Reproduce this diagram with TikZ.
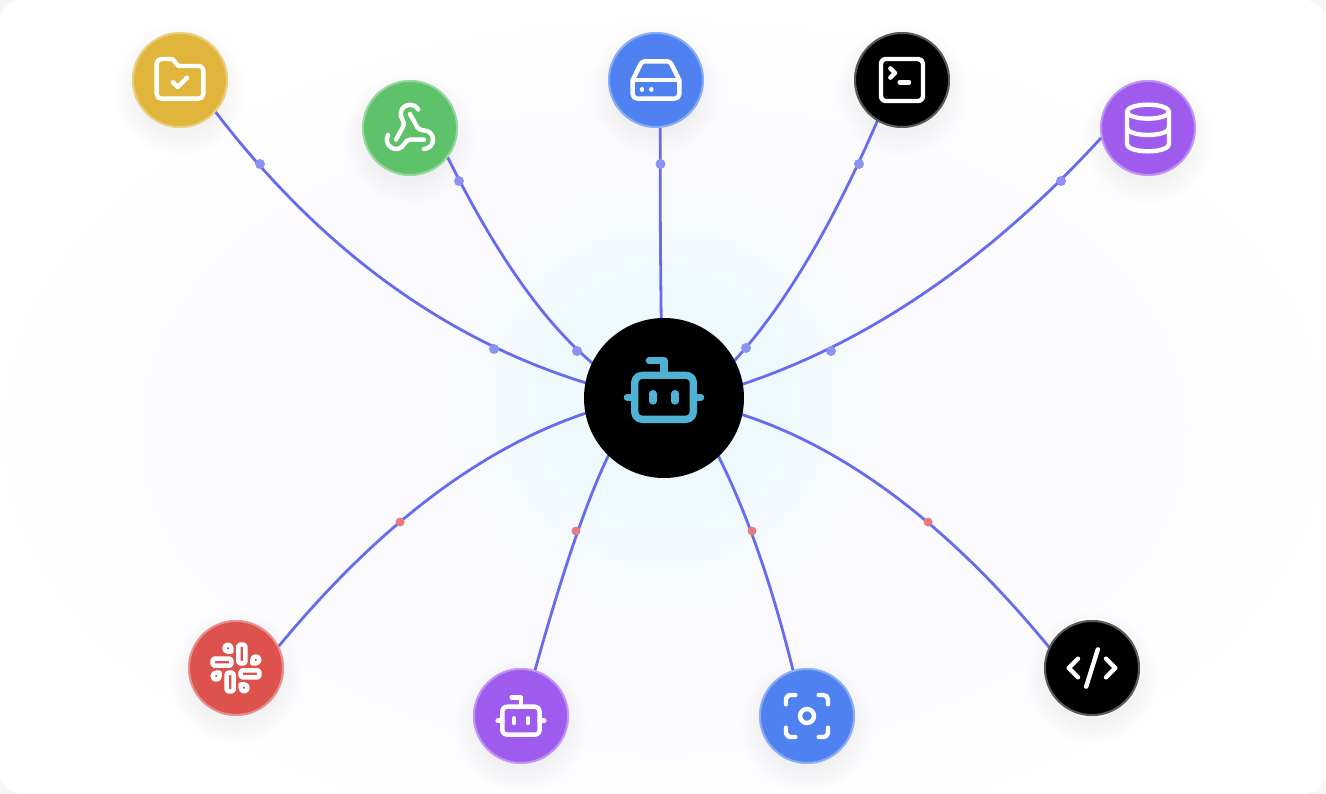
\documentclass[tikz,border=0pt]{standalone}
\usetikzlibrary{calc,svg.path}
\pgfdeclarelayer{cardlayer}
\pgfdeclarelayer{edgelayer}
\pgfsetlayers{cardlayer,edgelayer,main}
\definecolor{cardbg}{RGB}{255,255,255}
\definecolor{pagebg}{RGB}{247,247,250}
\definecolor{beam}{RGB}{103,107,238}
\definecolor{dotblue}{RGB}{139,147,242}
\definecolor{dotred}{RGB}{229,122,131}
\definecolor{glowfar}{RGB}{251,251,255}
\definecolor{glownear}{RGB}{238,250,254}
\definecolor{nyellow}{RGB}{225,181,60}
\definecolor{ngreen}{RGB}{94,194,106}
\definecolor{nblue}{RGB}{79,130,240}
\definecolor{npurple}{RGB}{159,91,238}
\definecolor{nred}{RGB}{222,82,78}
\definecolor{hubicon}{RGB}{78,178,213}
\tikzset{
  disc/.style={circle,minimum size=96pt,inner sep=0pt,outer sep=0pt,fill=#1},
  hubdisc/.style={circle,minimum size=160pt,inner sep=0pt,outer sep=0pt,fill=black},
  beamline/.style={draw=beam,line width=2.8pt,line cap=round},
  blueblob/.style={circle,minimum size=10pt,inner sep=0pt,fill=dotblue},
  redblob/.style={circle,minimum size=9pt,inner sep=0pt,fill=dotred},
  iconline/.style={draw=white,line width=4.4pt,line cap=round,line join=round},
  huboutline/.style={draw=hubicon,line width=7.33pt,line cap=round,line join=round}
}
% soft shadow beneath a disc
\newcommand{\softshadow}[2]{%
  \foreach \r in {44,46,...,66}{\fill[black,opacity=0.003] (#1,#2+10) circle (\r);}%
}
% translucent ring on a disc
\newcommand{\discring}[1]{\draw[white,opacity=0.35,line width=2pt] (#1) circle (47);}
% quadratic beam between two points through control point
\newcommand{\beamq}[3]{\draw[beamline] (#1) .. controls ($(#1)!0.667!(#2)$) and ($(#3)!0.667!(#2)$) .. (#3);}
% icon scopes: 24-unit grid centred at a point
\newcommand{\iconbox}[4]{\begin{scope}[shift={(#1,#2)},scale=#3,yscale=-1,shift={(-12pt,-12pt)}]#4\end{scope}}
\newcommand{\boticon}[1]{%
  \draw[#1] svg{M 12 8 V 4 H 8};
  \draw[#1] svg{M 6 8 H 18 A 2 2 0 0 1 20 10 V 18 A 2 2 0 0 1 18 20 H 6 A 2 2 0 0 1 4 18 V 10 A 2 2 0 0 1 6 8 Z};
  \draw[#1] svg{M 2 14 H 4};
  \draw[#1] svg{M 20 14 H 22};
  \draw[#1] svg{M 15 13 V 15};
  \draw[#1] svg{M 9 13 V 15};}
\begin{document}
\begin{tikzpicture}[x=1pt,y=-1pt]
\useasboundingbox (0,0) rectangle (1326,794);
\begin{pgfonlayer}{cardlayer}
  \fill[pagebg] (0,0) rectangle (1326,794);
  \fill[cardbg,rounded corners=22pt] (0,0) rectangle (1326,794);
  \foreach \r/\c in {660/254,590/253,520/252,450/251}{
    \definecolor{band}{RGB}{\c,\c,255}
    \fill[band] (664,430) ellipse ({\r} and {\r*0.62});}
  \foreach \r [evaluate=\r as \m using {min(100,(230-\r)/1.2)}] in {220,210,...,90}{
    \fill[glownear!\m!glowfar] (664,398) circle (\r);}
  \softshadow{180}{80}\softshadow{410}{128}\softshadow{656}{80}\softshadow{902}{80}\softshadow{1148}{128}
  \softshadow{236}{668}\softshadow{521}{716}\softshadow{807}{716}\softshadow{1092}{668}
\end{pgfonlayer}

\node[hubdisc] (hub) at (664,398) {};
\node[disc=nyellow] (folder) at (180,80) {};
\node[disc=ngreen] (webhook) at (410,128) {};
\node[disc=nblue] (drive) at (656,80) {};
\node[disc=black] (term) at (902,80) {};
\node[disc=npurple] (data) at (1148,128) {};
\node[disc=nred] (slack) at (236,668) {};
\node[disc=npurple] (bot) at (521,716) {};
\node[disc=nblue] (focus) at (807,716) {};
\node[disc=black] (code) at (1092,668) {};
\foreach \n in {folder,webhook,drive,term,data,slack,bot,focus,code}{\discring{\n}}

\coordinate (q1) at (373,317);
\coordinate (q2) at (519,301);
\coordinate (q3) at (660,223);
\coordinate (q4) at (808.7,279.6);
\coordinate (q5) at (934,320);
\coordinate (q6) at (428,466);
\coordinate (q7) at (576.7,520.6);
\coordinate (q8) at (761,541);
\coordinate (q9) at (900,466);

\begin{pgfonlayer}{edgelayer}
  \beamq{folder.-42}{q1}{hub.169}
  \beamq{webhook.-38}{q2}{hub.154}
  \beamq{drive.-85}{q3}{hub.92}
  \beamq{term.-121}{q4}{hub.28}
  \beamq{data.192}{q5}{hub.10}
  \beamq{slack.27}{q6}{hub.191.6}
  \beamq{bot.73}{q7}{hub.226}
  \beamq{focus.107}{q8}{hub.313.5}
  \beamq{code.154}{q9}{hub.348.5}
  \node[blueblob] (d1) at (260,164) {};
  \node[blueblob] (d2) at (494,349) {};
  \node[blueblob] (d3) at (459,181) {};
  \node[blueblob] (d4) at (577,351) {};
  \node[blueblob] (d5) at (660.5,164) {};
  \node[blueblob] (d6) at (859,164) {};
  \node[blueblob] (d7) at (746,348) {};
  \node[blueblob] (d8) at (1061,181) {};
  \node[blueblob] (d9) at (831,351) {};
  \node[redblob] (d10) at (400,522) {};
  \node[redblob] (d11) at (576,531) {};
  \node[redblob] (d12) at (752,531) {};
  \node[redblob] (d13) at (928,522) {};
\end{pgfonlayer}

% folder-check
\iconbox{180}{80}{2.333}{
  \draw[iconline] svg{M 4 20 H 20 A 2 2 0 0 0 22 18 V 8 A 2 2 0 0 0 20 6 H 12.07 A 2 2 0 0 1 10.41 5.1 L 9.59 3.9 A 2 2 0 0 0 7.93 3 H 4 A 2 2 0 0 0 2 5 V 18 C 2 19.1 2.9 20 4 20 Z};
  \draw[iconline] svg{M 9 13 L 11 15 L 15 11};
}
% webhook
\iconbox{410}{128}{2.333}{
  \draw[iconline] svg{M 18 16.98 H 12.01 C 10.91 16.98 10.06 17.92 9.53 18.88 A 4 4 0 0 1 2 17 C 2.01 16.3 2.2 15.6 2.57 15};
  \draw[iconline] svg{M 6 17 L 9.13 11.22 C 9.66 10.25 9.23 9.04 8.63 8.12 A 4 4 0 1 1 15.52 4.06};
  \draw[iconline] svg{M 12 6 L 15.13 11.73 C 15.66 12.7 16.9 13 18 13 A 4 4 0 0 1 18 21};
}
% hard drive
\iconbox{656}{80}{2.333}{
  \draw[iconline] svg{M 22 12 H 2};
  \draw[iconline] svg{M 5.45 5.11 L 2 12 V 18 A 2 2 0 0 0 4 20 H 20 A 2 2 0 0 0 22 18 V 12 L 18.55 5.11 A 2 2 0 0 0 16.76 4 H 7.24 A 2 2 0 0 0 5.45 5.11 Z};
  \draw[iconline] svg{M 6 16 H 6.01};
  \draw[iconline] svg{M 10 16 H 10.01};
}
% square terminal
\iconbox{902}{80}{2.333}{
  \draw[iconline] svg{M 7 11 L 9 9 L 7 7};
  \draw[iconline] svg{M 11 13 H 15};
  \draw[iconline] svg{M 5 3 H 19 A 2 2 0 0 1 21 5 V 19 A 2 2 0 0 1 19 21 H 5 A 2 2 0 0 1 3 19 V 5 A 2 2 0 0 1 5 3 Z};
}
% database
\iconbox{1148}{128}{2.333}{
  \draw[iconline] (12pt,5pt) ellipse [x radius=9pt,y radius=3pt];
  \draw[iconline] svg{M 3 5 V 19 A 9 3 0 0 0 21 19 V 5};
  \draw[iconline] svg{M 3 12 A 9 3 0 0 0 21 12};
}
% slack
\iconbox{236}{668}{2.333}{
  \draw[iconline,rounded corners=1.49pt] (13pt,2pt) rectangle (16pt,10pt);
  \draw[iconline,rounded corners=1.49pt] (8pt,14pt) rectangle (11pt,22pt);
  \draw[iconline,rounded corners=1.49pt] (14pt,13pt) rectangle (22pt,16pt);
  \draw[iconline,rounded corners=1.49pt] (2pt,8pt) rectangle (10pt,11pt);
  \draw[iconline] svg{M 19 8.5 V 10 H 20.5 C 21.33 10 22 9.33 22 8.5 C 22 7.67 21.33 7 20.5 7 C 19.67 7 19 7.67 19 8.5 Z};
  \draw[iconline] svg{M 5 15.5 V 14 H 3.5 C 2.67 14 2 14.67 2 15.5 C 2 16.33 2.67 17 3.5 17 C 4.33 17 5 16.33 5 15.5 Z};
  \draw[iconline] svg{M 15.5 19 H 14 V 20.5 C 14 21.33 14.67 22 15.5 22 C 16.33 22 17 21.33 17 20.5 C 17 19.67 16.33 19 15.5 19 Z};
  \draw[iconline] svg{M 8.5 5 H 10 V 3.5 C 10 2.67 9.33 2 8.5 2 C 7.67 2 7 2.67 7 3.5 C 7 4.33 7.67 5 8.5 5 Z};
}
% small bot
\iconbox{521}{716}{2.333}{\boticon{iconline}}
% focus
\iconbox{807}{716}{2.333}{
  \draw[iconline] (12pt,12pt) circle [radius=3pt];
  \draw[iconline] svg{M 3 7 V 5 A 2 2 0 0 1 5 3 H 7};
  \draw[iconline] svg{M 17 3 H 19 A 2 2 0 0 1 21 5 V 7};
  \draw[iconline] svg{M 21 17 V 19 A 2 2 0 0 1 19 21 H 17};
  \draw[iconline] svg{M 7 21 H 5 A 2 2 0 0 1 3 19 V 17};
}
% code
\iconbox{1092}{668}{2.333}{
  \draw[iconline] svg{M 18 16 L 22 12 L 18 8};
  \draw[iconline] svg{M 6 8 L 2 12 L 6 16};
  \draw[iconline] svg{M 14.5 4 L 9.5 20};
}
% hub bot
\iconbox{664}{390}{3.667}{\boticon{huboutline}}
\end{tikzpicture}
\end{document}
